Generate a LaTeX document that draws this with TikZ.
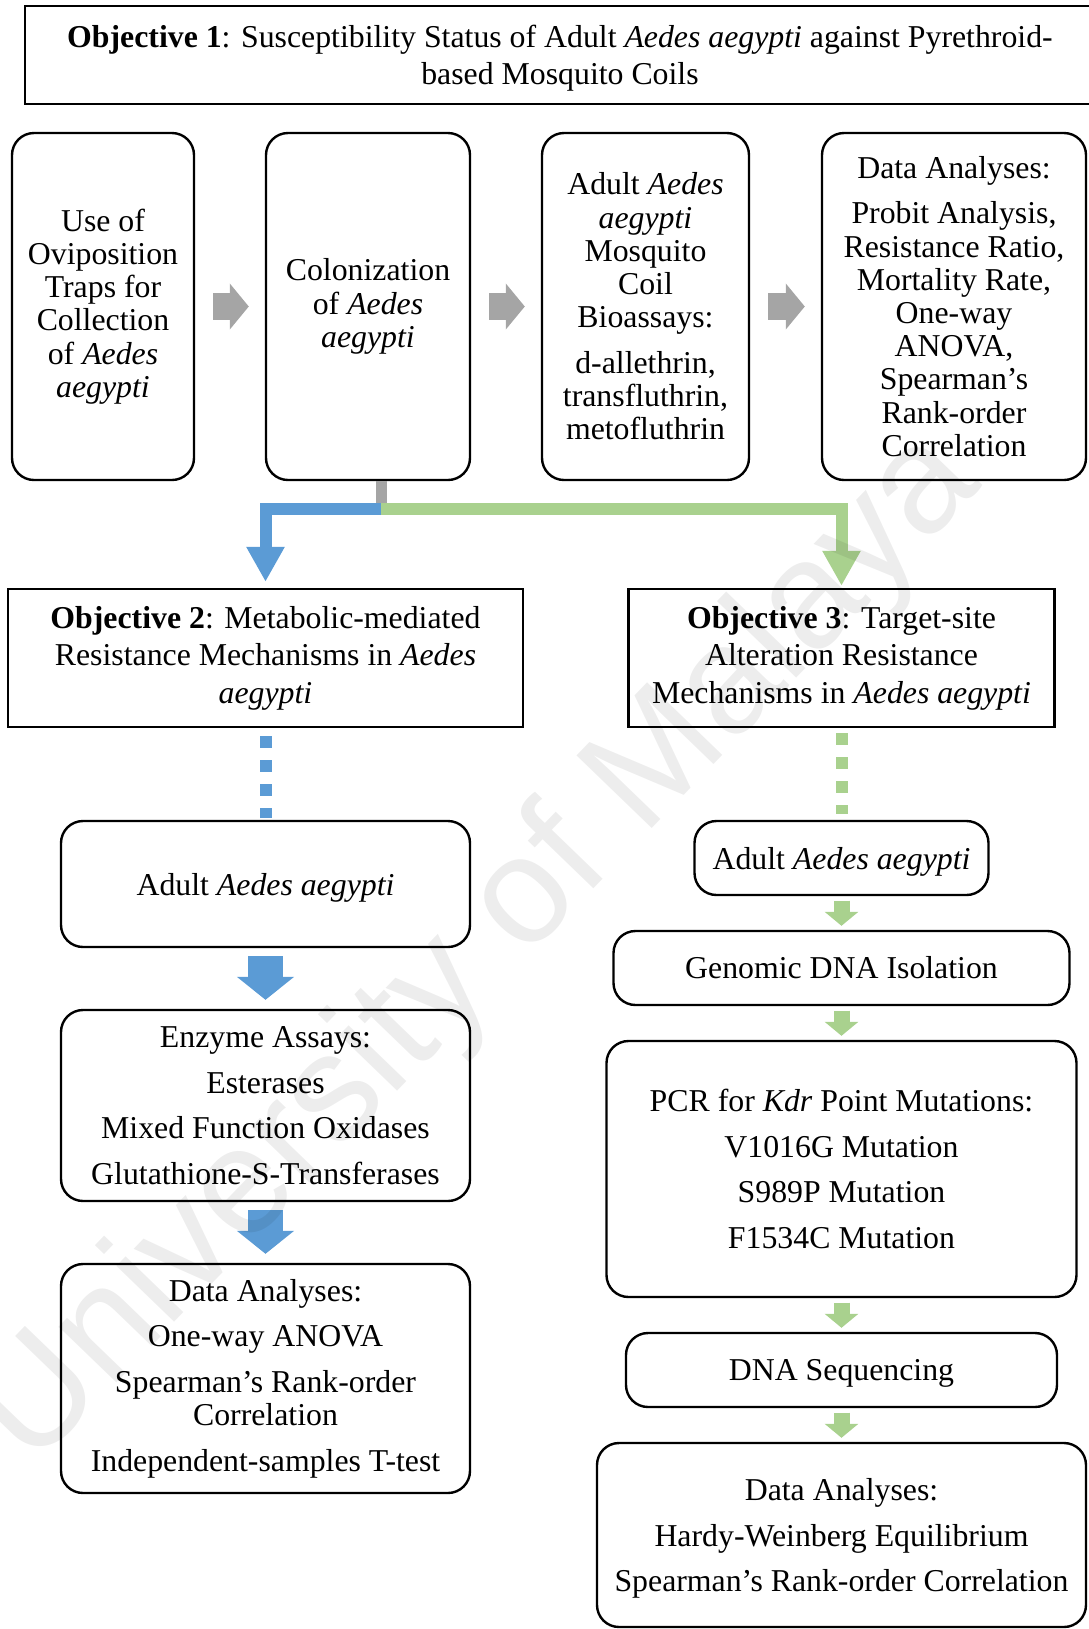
\documentclass[tikz,border=0pt]{standalone}
\usepackage{fontspec}
\setmainfont{Liberation Serif}
\newfontfamily\wmfont{Liberation Sans}
\usetikzlibrary{arrows.meta}
\definecolor{wordblue}{HTML}{5B9BD5}
\definecolor{wordgreen}{HTML}{A9D18E}
\definecolor{wordgray}{HTML}{A5A5A5}

\begin{document}
\begin{tikzpicture}[x=0.5pt, y=-0.5pt,
    every node/.style={inner sep=0pt, align=center, font=\fontsize{15.9}{16.6}\selectfont},
    objbox/.style={draw, line width=1.2pt, font=\fontsize{15.9}{18.7}\selectfont},
    stepbox/.style={draw, line width=1.2pt, rounded corners=11pt},
    grayarrow/.style={wordgray, line width=13.5pt, -{Triangle[width=22.5pt, length=9.5pt]}, shorten <=9pt, shorten >=8pt},
    forkline/.style={line width=6pt, -{Triangle[width=18pt, length=17.5pt]}},
    dots/.style={line width=6pt, dash pattern=on 6pt off 6pt},
    bluearrow/.style={wordblue, line width=17.5pt, -{Triangle[width=28pt, length=11.5pt]}, shorten <=4pt, shorten >=4.5pt},
    greenarrow/.style={wordgreen, line width=8pt, -{Triangle[width=16.5pt, length=7pt]}, shorten <=2.25pt, shorten >=2pt}]

    \useasboundingbox (0,0) rectangle (1088,1629);

    % Objective 1
    \node[objbox, text depth=0pt, minimum width=535pt, minimum height=49pt] (obj1) at (560,55)
      {\textbf{Objective 1}: Susceptibility Status of Adult \textit{Aedes aegypti} against Pyrethroid-\\based Mosquito Coils};

    \node[stepbox, minimum width=91pt, minimum height=173.5pt] (trap) at (103,306.5)
      {Use of\\Oviposition\\Traps for\\Collection\\of \textit{Aedes}\\\textit{aegypti}};
    \node[stepbox, minimum width=102pt, minimum height=173.5pt] (colony) at (368,306.5)
      {Colonization\\of \textit{Aedes}\\\textit{aegypti}};
    \node[stepbox, minimum width=103.5pt, minimum height=173.5pt] (coil) at (645.5,306.5)
      {Adult \textit{Aedes}\\\textit{aegypti}\\Mosquito\\Coil\\Bioassays:\\[6.2pt]d-allethrin,\\transfluthrin,\\metofluthrin};
    \node[stepbox, minimum width=132pt, minimum height=173.5pt] (data1) at (954,306.5)
      {Data Analyses:\\[6.2pt]Probit Analysis,\\Resistance Ratio,\\Mortality Rate,\\One-way\\ANOVA,\\Spearman’s\\Rank-order\\Correlation};

    % Objective 2 and 3
    \node[objbox, minimum width=257.5pt, minimum height=69pt] (obj2) at (265.5,658)
      {\textbf{Objective 2}: Metabolic-mediated\\Resistance Mechanisms in \textit{Aedes}\\\textit{aegypti}};
    \node[objbox, minimum width=213pt, minimum height=69pt] (obj3) at (841.5,658)
      {\textbf{Objective 3}: Target-site\\Alteration Resistance\\Mechanisms in \textit{Aedes aegypti}};

    % Left column
    \node[stepbox, text depth=0pt, minimum width=204.5pt, minimum height=63pt] (adultL) at (265.5,884)
      {Adult \textit{Aedes aegypti}};
    \node[stepbox, minimum width=204.5pt, minimum height=95.5pt] (enzyme) at (265.5,1105.5)
      {Enzyme Assays:\\[6.2pt]Esterases\\[6.2pt]Mixed Function Oxidases\\[6.2pt]Glutathione-S-Transferases};
    \node[stepbox, minimum width=204.5pt, minimum height=114.5pt] (data2) at (265.5,1378.5)
      {Data Analyses:\\[6.2pt]One-way ANOVA\\[6.2pt]Spearman’s Rank-order\\Correlation\\[6.2pt]Independent-samples T-test};

    % Right column
    \node[stepbox, text depth=0pt, minimum width=147pt, minimum height=37pt] (adultR) at (841.5,858)
      {Adult \textit{Aedes aegypti}};
    \node[stepbox, minimum width=228pt, minimum height=37pt] (dna) at (841.5,968)
      {Genomic DNA Isolation};
    \node[stepbox, minimum width=235pt, minimum height=128pt] (pcr) at (841.5,1169)
      {PCR for \textit{Kdr} Point Mutations:\\[6.2pt]V1016G Mutation\\[6.2pt]S989P Mutation\\[6.2pt]F1534C Mutation};
    \node[stepbox, text depth=0pt, minimum width=215.5pt, minimum height=37pt] (seq) at (841.5,1370)
      {DNA Sequencing};
    \node[stepbox, text depth=0pt, minimum width=244.5pt, minimum height=92pt] (data3) at (841.5,1535)
      {Data Analyses:\\[6.2pt]Hardy-Weinberg Equilibrium\\[6.2pt]Spearman’s Rank-order Correlation};

    % Arrows
    \draw[grayarrow] (trap) -- (colony);
    \draw[grayarrow] (colony) -- (coil);
    \draw[grayarrow] (coil) -- (data1);

    \coordinate (fork) at (381,508.5);
    \draw[wordgray, line width=5.5pt] (fork |- colony.south) -- (fork);
    \draw[forkline, wordblue, shorten >=3pt] (fork) -| (obj2.north);
    \draw[forkline, wordgreen, shorten >=1pt] (fork) -| (obj3.north);

    \draw[dots, wordblue, shorten <=4pt, shorten >=1pt] (obj2.south) -- (adultL.north);
    \draw[dots, wordgreen, shorten <=2.5pt, shorten >=3pt] (obj3.south) -- (adultR.north);

    \draw[bluearrow] (adultL) -- (enzyme);
    \draw[bluearrow] (enzyme) -- (data2);

    \draw[greenarrow] (adultR) -- (dna);
    \draw[greenarrow] (dna) -- (pcr);
    \draw[greenarrow] (pcr) -- (seq);
    \draw[greenarrow] (seq) -- (data3);

    % Watermark
    \node[rotate=46, opacity=0.07, font=\wmfont\fontsize{76}{76}\selectfont] (mark) at (480,950) {University of Malaya};

\end{tikzpicture}
\end{document}
